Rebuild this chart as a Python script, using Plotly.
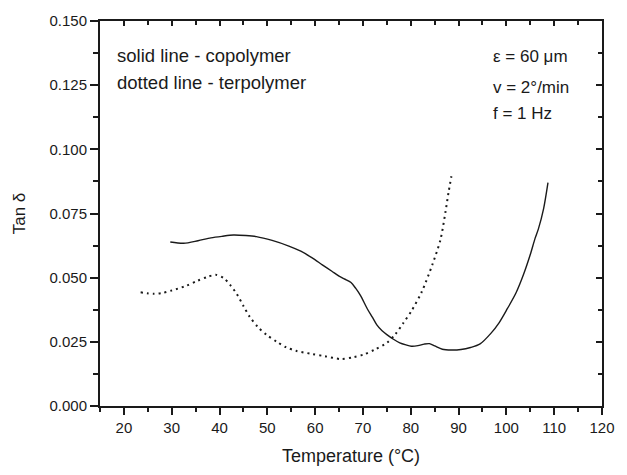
import plotly.graph_objects as go

# Copolymer (solid line)
co_temp = [29.7, 32.5, 35.5, 38.2, 40.5, 42.9, 45.5, 47.7, 51.0, 54.5, 57.0, 59.3, 61.5,
           63.5, 65.0, 66.1, 67.5, 68.5, 69.5, 70.9, 72.0, 72.9, 74.0, 75.0, 76.3, 77.7,
           79.0, 80.1, 81.5, 82.8, 83.9, 85.0, 86.6, 88.5, 90.5, 92.5, 94.5, 96.8, 98.5,
           100.2, 102.0, 103.6, 105.0, 106.0, 106.7, 107.8, 108.7]
co_tan = [0.0639, 0.0634, 0.0644, 0.0655, 0.0661, 0.0666, 0.0664, 0.0660, 0.0645, 0.0623,
          0.0603, 0.0578, 0.0550, 0.0525, 0.0506, 0.0495, 0.0481, 0.0458, 0.0430, 0.0379,
          0.0345, 0.0316, 0.0293, 0.0278, 0.0261, 0.0246, 0.0238, 0.0233, 0.0235, 0.0241,
          0.0243, 0.0234, 0.0221, 0.0218, 0.0220, 0.0228, 0.0242, 0.0284, 0.0325, 0.0379,
          0.0440, 0.0513, 0.0590, 0.0653, 0.0690, 0.0770, 0.0870]

# Terpolymer (dotted line)
ter_temp = [23.5, 26.2, 28.0, 30.0, 33.0, 35.4, 37.5, 39.2, 40.9, 42.3, 43.6, 45.0, 46.3,
            48.0, 49.8, 52.0, 53.9, 56.0, 59.3, 62.0, 65.4, 68.0, 70.2, 72.5, 75.0, 76.8,
            78.4, 80.2, 82.3, 84.5, 86.2, 87.25, 87.9, 88.5]
ter_tan = [0.0443, 0.0437, 0.0440, 0.0450, 0.0468, 0.0488, 0.0503, 0.0511, 0.0498, 0.0470,
           0.0437, 0.0390, 0.0348, 0.0308, 0.0278, 0.0250, 0.0229, 0.0215, 0.0203, 0.0194,
           0.0183, 0.0190, 0.0201, 0.0220, 0.0246, 0.0280, 0.0322, 0.0372, 0.0445, 0.0550,
           0.0647, 0.0755, 0.0832, 0.0895]

x_range = [15, 120]
y_range = [0, 0.150]

FONT = "Liberation Sans, Arial, sans-serif"

fig = go.Figure()
fig.add_trace(go.Scatter(x=co_temp, y=co_tan, mode="lines", line_shape="spline",
                         line=dict(color="#1a1a1a", width=1.4, smoothing=0.8),
                         name="copolymer", showlegend=False))
fig.add_trace(go.Scatter(x=ter_temp, y=ter_tan, mode="lines", line_shape="spline",
                         line=dict(color="#1a1a1a", width=2, dash="2px,4px", smoothing=0.8),
                         name="terpolymer", showlegend=False))
# invisible trace to anchor mirror axes
fig.add_trace(go.Scatter(x=x_range, y=y_range, xaxis="x2", yaxis="y2", mode="markers",
                         marker=dict(opacity=0), hoverinfo="skip", showlegend=False))

axis_common = dict(showgrid=False, zeroline=False, linecolor="#1a1a1a", linewidth=2,
                   tickcolor="#1a1a1a", tickwidth=1.5)

fig.update_layout(
    width=627, height=475,
    margin=dict(l=100, r=14, t=19, b=64),
    paper_bgcolor="white", plot_bgcolor="white",
    font=dict(family=FONT, color="#1a1a1a"),
    xaxis=dict(range=x_range, tick0=0, dtick=10, ticks="outside", ticklen=7,
               showline=True, tickfont=dict(size=15),
               minor=dict(dtick=5, tick0=0, ticks="outside", ticklen=4,
                          tickcolor="#1a1a1a", tickwidth=1.5),
               title=dict(text="Temperature (°C)", font=dict(size=18), standoff=14),
               **axis_common),
    yaxis=dict(range=y_range, tick0=0, dtick=0.025, tickformat=".3f", ticks="outside",
               ticklen=8, showline=True, tickfont=dict(size=15),
               minor=dict(dtick=0.0125, tick0=0, ticks="outside", ticklen=5,
                          tickcolor="#1a1a1a", tickwidth=1.5),
               title=dict(text="Tan δ", font=dict(size=17), standoff=20),
               **axis_common),
    xaxis2=dict(range=x_range, overlaying="x", side="top", anchor="y", tick0=0, dtick=10,
                ticks="inside", ticklen=5, showticklabels=False, showline=True,
                minor=dict(dtick=5, tick0=0, ticks="inside", ticklen=4,
                           tickcolor="#1a1a1a", tickwidth=1.5),
                **axis_common),
    yaxis2=dict(range=y_range, overlaying="y", side="right", anchor="x", tick0=0,
                dtick=0.025, ticks="inside", ticklen=6, showticklabels=False,
                showline=True,
                minor=dict(dtick=0.0125, tick0=0, ticks="inside", ticklen=4,
                           tickcolor="#1a1a1a", tickwidth=1.5),
                **axis_common),
)

notes = [
    ("solid line - copolymer", 0.029, 0.910, 18.5),
    ("dotted line - terpolymer", 0.029, 0.839, 18.5),
    ("ε = 60 μm", 0.778, 0.907, 17),
    ("v = 2°/min", 0.778, 0.826, 17),
    ("f = 1 Hz", 0.778, 0.760, 17),
]
for text, x, y, size in notes:
    fig.add_annotation(text=text, x=x, y=y, xref="paper", yref="paper",
                       xanchor="left", yanchor="middle", showarrow=False,
                       font=dict(family=FONT, size=size, color="#1a1a1a"))

fig.write_html("out.html")
